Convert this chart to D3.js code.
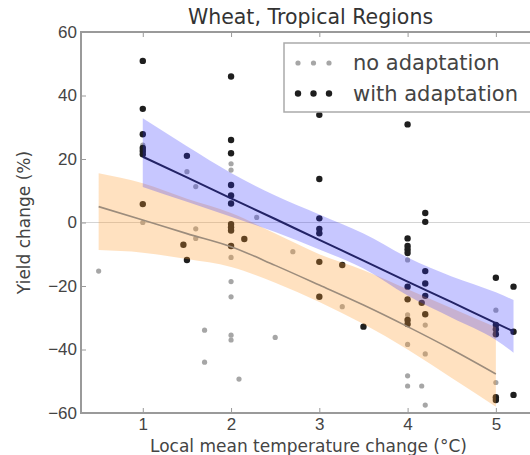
<!DOCTYPE html>
<html>
<head>
<meta charset="utf-8">
<script src="https://cdn.jsdelivr.net/npm/d3@7"></script>
<style>
  body { margin: 0; background: #fff; }
  svg { font-family: "DejaVu Sans", sans-serif; }
</style>
</head>
<body>
<div id="chart"></div>
<script>
// no adaptation (grey dots)
var noAdaptX = [0.5, 1, 1, 1.5, 1.6, 1.6, 1.6, 1.7, 1.7, 2, 2, 2, 2, 2, 2, 2, 2.09, 2.29, 2.5, 2.7,
  3.26, 4, 4, 4, 4, 4, 4.16, 4.2, 4.2, 4.2, 5, 5];
var noAdaptY = [-15.3, 0, 24.4, 16, 11.3, -2, -5, -33.9, -44, 16.5, 18.5, -11, -18.6, -23.4, -35.5, -37, -49.3, 1.6, -36.2, -9.2,
  -26.5, -11.8, -29.1, -38.4, -48.3, -51.5, -51.5, -32.3, -41.4, -57.5, -27.6, -50.4];

// with adaptation (black dots)
var withAdaptX = [1, 1, 1, 1, 1, 1, 1, 1.5, 1.46, 1.5, 2, 2, 2, 2, 2, 2, 2, 2, 2, 2, 2.15,
  3, 3, 3, 3, 3, 3, 3.26, 3, 3.5, 4, 4, 4, 4, 4, 4, 4, 4, 4,
  4.2, 4.2, 4.2, 4.2, 4.2, 4.16, 4.2, 5, 5, 5, 5, 5, 5, 5.2, 5.2, 5.2];
var withAdaptY = [50.9, 35.8, 27.8, 23.5, 22.5, 21.5, 5.8, 21, -7, -11.8, 46, 26, 21.8, 11.8, 8.5, 6, -0.5, -1.5, -2.5, -7.4, -5.2,
  33.9, 13.7, 1.3, -2, -3.4, -12.4, -13.4, -23.4, -32.8, 30.9, -5, -7.4, -8.5, -9.6, -20.2, -24.2, -30.7, -32,
  3, 0.2, -15.3, -19.2, -23.1, -25.3, -28.9, -17.4, -32.3, -33.6, -35.2, -55, -55.9, -20.2, -34.4, -54.3];

// fitted curve and band, no adaptation
var fitNoX  = [0.5, 1, 1.5, 2, 2.5, 3, 3.5, 4, 4.5, 5];
var fitNoY  = [5, 0.8, -3.5, -7.6, -13.5, -19.7, -26, -32.8, -40, -47.7];
var fitNoHi = [15.5, 12.4, 7.5, 3, -3.5, -10, -15, -21, -27, -33];
var fitNoLo = [-8.7, -9.5, -11.5, -14, -19, -25, -32, -40, -49, -58];

// fitted line and band, with adaptation
var fitWithX  = [1, 1.5, 2, 2.5, 3, 3.5, 4, 4.5, 5, 5.2];
var fitWithY  = [20.7, 14.2, 7.6, 1.1, -5.5, -12, -18.6, -25.1, -31.7, -34.3];
var fitWithHi = [32.8, 24, 15.6, 8.5, 2.5, -3.5, -11, -17, -22, -24.4];
var fitWithLo = [11.2, 6.5, 1.8, -3, -8.5, -14.5, -23, -30, -37, -41];

var xTicks = [1, 2, 3, 4, 5];
var yTicks = [60, 40, 20, 0, -20, -40, -60];
var legendLabels = ["no adaptation", "with adaptation"];

var W = 530, H = 455;
var margin = { top: 32, right: -10, bottom: 42, left: 81 };
var width = W - margin.left - margin.right,
  height = H - margin.top - margin.bottom;

var svg = d3.select("#chart").append("svg")
  .attr("width", W).attr("height", H);

var g = svg.append("g")
  .attr("transform", "translate(" + margin.left + "," + margin.top + ")");

var x = d3.scaleLinear().domain([0.3, 5.5]).range([0, width]);
var y = d3.scaleLinear().domain([-60, 60]).range([height, 0]);

// zero line
g.append("line")
  .attr("x1", 0).attr("x2", width)
  .attr("y1", y(0)).attr("y2", y(0))
  .attr("stroke", "#d4d4d4").attr("stroke-width", 1.2);

function pts(xs, ys) {
  return xs.map(function (d, i) { return [d, ys[i]]; });
}

// points
g.append("g").selectAll("circle")
  .data(pts(noAdaptX, noAdaptY)).enter().append("circle")
  .attr("cx", function (d) { return x(d[0]); })
  .attr("cy", function (d) { return y(d[1]); })
  .attr("r", 2.6)
  .attr("fill", "#a6a6a6");

g.append("g").selectAll("circle")
  .data(pts(withAdaptX, withAdaptY)).enter().append("circle")
  .attr("cx", function (d) { return x(d[0]); })
  .attr("cy", function (d) { return y(d[1]); })
  .attr("r", 3.2)
  .attr("fill", "#1e1e1e");

var area = d3.area()
  .x(function (d) { return x(d[0]); })
  .y0(function (d) { return y(d[1]); })
  .y1(function (d) { return y(d[2]); });
var line = d3.line()
  .curve(d3.curveMonotoneX)
  .x(function (d) { return x(d[0]); })
  .y(function (d) { return y(d[1]); });

// bands
g.append("path")
  .datum(fitNoX.map(function (d, i) { return [d, fitNoLo[i], fitNoHi[i]]; }))
  .attr("d", area.curve(d3.curveMonotoneX))
  .attr("fill", "#ff9a30").attr("fill-opacity", 0.3);
g.append("path")
  .datum(pts(fitNoX, fitNoY))
  .attr("d", line)
  .attr("fill", "none").attr("stroke", "#9c8c7c").attr("stroke-width", 1.6);

g.append("path")
  .datum(fitWithX.map(function (d, i) { return [d, fitWithLo[i], fitWithHi[i]]; }))
  .attr("d", area)
  .attr("fill", "#3030ff").attr("fill-opacity", 0.27);
g.append("path")
  .datum(pts(fitWithX, fitWithY))
  .attr("d", line)
  .attr("fill", "none").attr("stroke", "#232366").attr("stroke-width", 2);

// axes (ticks inside, on all sides)
var axisColor = "#9a9a9a";
function styleAxis(sel) {
  sel.select(".domain").remove();
  sel.selectAll(".tick line").attr("stroke", axisColor).attr("stroke-width", 1);
  sel.selectAll(".tick text").attr("fill", "#444").style("font-size", "17px");
}
g.append("g")
  .attr("transform", "translate(0," + height + ")")
  .call(d3.axisBottom(x).tickValues(xTicks).tickFormat(d3.format("d")).tickSizeInner(-5).tickPadding(5))
  .call(styleAxis);
g.append("g")
  .call(d3.axisTop(x).tickValues(xTicks).tickSizeInner(-5).tickFormat(""))
  .call(styleAxis);
g.append("g")
  .call(d3.axisLeft(y).tickValues(yTicks).tickFormat(function (d) { return d < 0 ? "\u2212" + (-d) : d; }).tickSizeInner(-5).tickPadding(4))
  .call(styleAxis);

g.append("rect")
  .attr("x", 0).attr("y", 0).attr("width", width).attr("height", height)
  .attr("fill", "none").attr("stroke", axisColor).attr("stroke-width", 2);

// title and labels
svg.append("text")
  .attr("x", margin.left + width / 2).attr("y", 24)
  .attr("text-anchor", "middle")
  .style("font-size", "20.5px").attr("fill", "#333")
  .text("Wheat, Tropical Regions");
svg.append("text")
  .attr("x", margin.left + width / 2 - 2).attr("y", 452)
  .attr("text-anchor", "middle")
  .style("font-size", "17px").attr("fill", "#444")
  .text("Local mean temperature change (\u00b0C)");
svg.append("text")
  .attr("transform", "translate(30," + (margin.top + height / 2) + ") rotate(-90)")
  .attr("text-anchor", "middle")
  .style("font-size", "17px").attr("fill", "#444")
  .text("Yield change (%)");

// legend
var leg = svg.append("g");
leg.append("rect")
  .attr("x", 284).attr("y", 43).attr("width", 250).attr("height", 69)
  .attr("fill", "#fff").attr("stroke", "#aaa").attr("stroke-width", 1.5);
var legColors = ["#a6a6a6", "#1e1e1e"];
var legR = [2.6, 3.2];
legendLabels.forEach(function (lab, i) {
  var ly = 63 + i * 30.5;
  [298, 313.5, 329].forEach(function (lx) {
    leg.append("circle").attr("cx", lx).attr("cy", ly).attr("r", legR[i]).attr("fill", legColors[i]);
  });
  leg.append("text")
    .attr("x", 353).attr("y", ly + 7)
    .style("font-size", "21px").attr("fill", "#444")
    .text(lab);
});
</script>
</body>
</html>
